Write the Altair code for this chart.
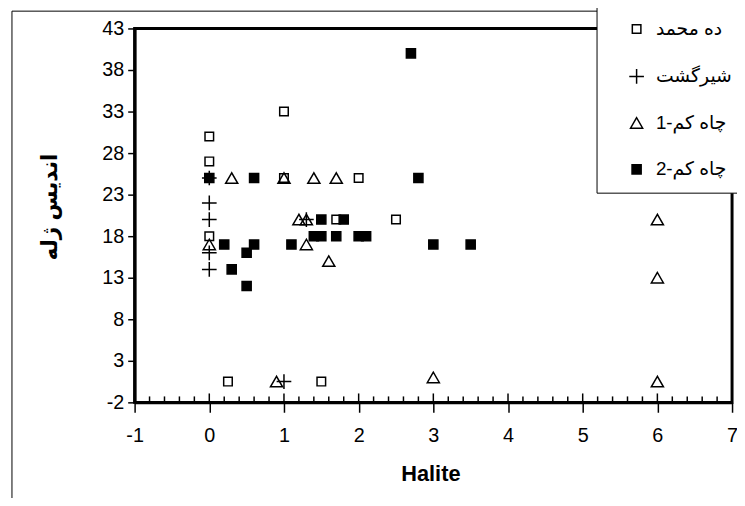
import altair as alt
import pandas as pd

# ---- data ----
series_names = ["ده محمد", "شیرگشت", "چاه کم-1", "چاه کم-2"]

deh_x = [0, 0, 0, 1, 1, 2, 1.7, 2.5, 0.25, 1.5]
deh_y = [30, 27, 18, 33, 25, 25, 20, 20, 0.5, 0.5]

shir_x = [0, 0, 0, 0, 0, 1.3, 1.0]
shir_y = [25, 22, 20, 16, 14, 20, 0.5]

c1_x = [0.3, 1.0, 1.4, 1.7, 0, 1.2, 1.3, 1.3, 1.6, 0.9, 3, 6, 6, 6]
c1_y = [25, 25, 25, 25, 17, 20, 20, 17, 15, 0.5, 1, 0.5, 20, 13]

c2_x = [0, 0.6, 2.8, 2.7, 0.2, 0.6, 1.1, 0.5, 0.3, 0.5, 1.5, 1.8, 1.4, 1.5, 1.7, 2.0, 2.1, 3, 3.5]
c2_y = [25, 25, 25, 40, 17, 17, 17, 16, 14, 12, 20, 20, 18, 18, 18, 18, 18, 17, 17]

x_major_ticks = [-1, 0, 1, 2, 3, 4, 5, 6, 7]
x_minor_ticks = [round(-1 + 0.2 * i, 1) for i in range(41) if i % 5 != 0]
y_ticks = [-2, 3, 8, 13, 18, 23, 28, 33, 38, 43]

x_title = "Halite"
y_title = "اندیس ژله"

# ---- table ----
rows = []
for name, xs, ys in zip(series_names, [deh_x, shir_x, c1_x, c2_x], [deh_y, shir_y, c1_y, c2_y]):
    for xv, yv in zip(xs, ys):
        rows.append({"series": name, "x": xv, "y": yv})
df = pd.DataFrame(rows)
df["order"] = df["series"].map({n: i for i, n in enumerate(series_names)})

FONT = "Liberation Sans, Arial, DejaVu Sans, sans-serif"
PLUS = "M-1,0L1,0M0,-1L0,1"

xscale = alt.Scale(domain=[-1, 7], nice=False, zero=False)
yscale = alt.Scale(domain=[-2, 43], nice=False, zero=False)

x_axis = alt.Axis(values=x_major_ticks, tickSize=10, tickColor="black", tickWidth=1.5,
                  domainColor="black", domainWidth=3, grid=False,
                  labelFontSize=20, labelFont=FONT, labelColor="black",
                  labelPadding=14, labelFlush=False, labelExpr="'' + datum.value",
                  titleFontSize=22, titleFont=FONT, titleFontWeight="bold", titleColor="black",
                  titleX=299, titleY=72, titleBaseline="middle")

legend = alt.Legend(
    title=None, orient="none", legendX=467, legendY=-22,
    fillColor="white", strokeColor="black", padding=13,
    symbolOffset=18, labelOffset=10, rowPadding=27,
    labelFontSize=19, labelFont=FONT, labelColor="black",
    symbolStrokeColor="black", symbolStrokeWidth=1.5,
    labelLimit=200,
)

points = alt.Chart(df).mark_point(stroke="black", strokeWidth=1.5, opacity=1).encode(
    x=alt.X("x:Q", scale=xscale, title=x_title, axis=x_axis),
    y=alt.Y("y:Q", scale=yscale, title=y_title,
            axis=alt.Axis(values=y_ticks, tickSize=7, tickColor="black", tickWidth=1.5,
                          domainColor="black", domainWidth=3, grid=False,
                          labelFontSize=20, labelFont=FONT, labelColor="black",
                          labelPadding=4, labelExpr="'' + datum.value",
                          titleFontSize=22, titleFont=FONT, titleFontWeight="bold", titleColor="black",
                          titleX=-86, titleY=180, titleBaseline="middle", titleAlign="center")),
    shape=alt.Shape("series:N", scale=alt.Scale(domain=series_names,
                    range=["square", PLUS, "triangle-up", "square"]), legend=legend),
    fill=alt.Fill("series:N", scale=alt.Scale(domain=series_names,
                  range=["transparent", "transparent", "transparent", "black"]), legend=legend),
    stroke=alt.Stroke("series:N", scale=alt.Scale(domain=series_names,
                      range=["black", "black", "black", "black"]), legend=legend),
    size=alt.Size("series:N", scale=alt.Scale(type="ordinal", domain=series_names,
                  range=[75, 220, 150, 85]), legend=legend),
    order=alt.Order("order:Q"),
)

minor = alt.Chart(pd.DataFrame({"x": x_minor_ticks})).mark_rule(color="black", strokeWidth=1.5).encode(
    x=alt.X("x:Q", scale=xscale, title=x_title, axis=x_axis),
    y=alt.value(378), y2=alt.value(372),
)
major = alt.Chart(pd.DataFrame({"x": x_major_ticks})).mark_rule(color="black", strokeWidth=1.5).encode(
    x=alt.X("x:Q", scale=xscale, title=x_title, axis=x_axis),
    y=alt.value(378), y2=alt.value(369),
)
border = alt.Chart(pd.DataFrame({"a": [0]})).mark_rect(
    fillOpacity=0, stroke="black", strokeWidth=1).encode(
    x=alt.value(-124), x2=alt.value(760), y=alt.value(-17.5), y2=alt.value(600),
)

chart = alt.layer(border, points, minor, major).properties(
    width=604, height=378,
    autosize=alt.AutoSizeParams(type="none"),
    padding={"left": 128, "top": 18, "right": 5, "bottom": 94},
    background="white",
).configure_view(stroke="black", strokeWidth=3)

chart.save("out.html", embed_options={"renderer": "svg", "actions": False})
